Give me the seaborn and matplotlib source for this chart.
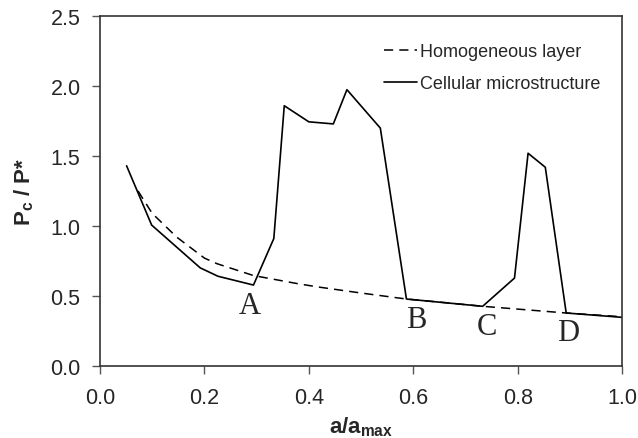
"""
Critical load ratio vs normalised crack length
"""

import seaborn as sns
import matplotlib.pyplot as plt

# Homogeneous layer (dashed)
homo_x = [0.073, 0.083, 0.10, 0.147, 0.20, 0.224, 0.294, 0.383, 0.422, 0.50, 0.587, 0.65, 0.733, 0.80, 0.893, 1.0]
homo_y = [1.25, 1.19, 1.09, 0.92, 0.77, 0.73, 0.645, 0.584, 0.561, 0.52, 0.477, 0.455, 0.425, 0.405, 0.377, 0.35]

# Cellular microstructure (solid)
cell_x = [0.051, 0.099, 0.192, 0.226, 0.294, 0.333, 0.353, 0.40, 0.447, 0.473, 0.537, 0.587, 0.733, 0.794, 0.82, 0.853, 0.893, 1.0]
cell_y = [1.43, 1.006, 0.70, 0.64, 0.577, 0.91, 1.86, 1.745, 1.73, 1.975, 1.70, 0.477, 0.425, 0.627, 1.52, 1.42, 0.377, 0.346]

# point labels
point_names = ["A", "B", "C", "D"]
point_x = [0.2875, 0.605, 0.742, 0.896]
point_y = [0.434, 0.327, 0.281, 0.238]


def plot():
    sns.set_style("ticks")
    plt.rcParams['font.family'] = ['Liberation Sans', 'DejaVu Sans']
    plt.rcParams['mathtext.fontset'] = 'custom'
    plt.rcParams['mathtext.rm'] = 'Liberation Sans'
    plt.rcParams['mathtext.bf'] = 'Liberation Sans:bold'

    fig = plt.figure(figsize=(6.38, 4.39), dpi=100)
    ax = fig.add_axes([0.1567, 0.1647, 0.8183, 0.7959])

    sns.lineplot(x=homo_x, y=homo_y, ax=ax, color='black', linewidth=1.1,
                 linestyle=(0, (6, 4)), label='Homogeneous layer')
    sns.lineplot(x=cell_x, y=cell_y, ax=ax, color='black', linewidth=1.2,
                 label='Cellular microstructure')

    for n, px, py in zip(point_names, point_x, point_y):
        ax.text(px, py, n, fontsize=22, family='Liberation Serif',
                ha='center', va='center')

    ax.set_xlim(0, 1.0)
    ax.set_ylim(0, 2.5)
    ax.set_xticks([0.0, 0.2, 0.4, 0.6, 0.8, 1.0])
    ax.set_yticks([0.0, 0.5, 1.0, 1.5, 2.0, 2.5])
    ax.set_xticklabels(['0.0', '0.2', '0.4', '0.6', '0.8', '1.0'])
    ax.set_yticklabels(['0.0', '0.5', '1.0', '1.5', '2.0', '2.5'])
    ax.tick_params(labelsize=15.5, length=6, width=1, color='#555555')
    ax.tick_params(axis='x', pad=9)
    ax.tick_params(axis='y', pad=8)

    # frame on all four sides
    for side in ['top', 'right', 'left', 'bottom']:
        ax.spines[side].set_visible(True)
        ax.spines[side].set_color('#333333')
        ax.spines[side].set_linewidth(1.2)

    ax.set_xlabel(r"a/$\mathbf{a_{max}}$", fontsize=16, fontweight='bold', labelpad=5)
    ax.set_ylabel(r"$\mathbf{P_c}$ / P*", fontsize=16, fontweight='bold', labelpad=10)

    ax.legend(loc='upper right', frameon=False, fontsize=13, handlelength=1.8,
              handletextpad=0.2, labelspacing=0.85, bbox_to_anchor=(0.99, 0.97))

    plt.savefig('out.png', dpi=100)


if __name__ == "__main__":
    plot()
